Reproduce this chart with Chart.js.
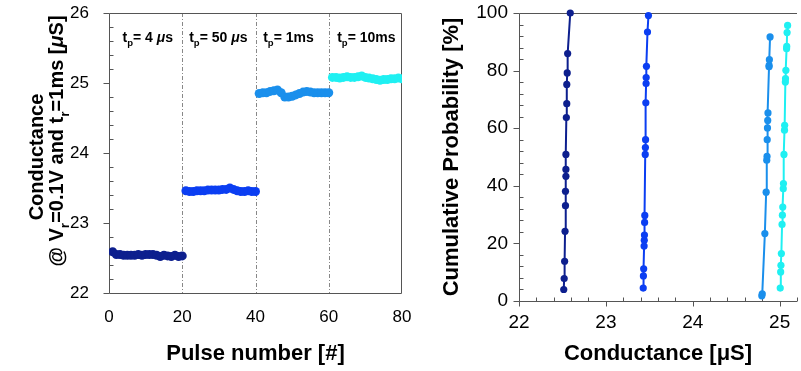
<!DOCTYPE html>
<html>
<head>
<meta charset="utf-8">
<script src="https://cdn.jsdelivr.net/npm/chart.js@4.4.0/dist/chart.umd.min.js"></script>
<style>
  html, body { margin: 0; padding: 0; background: #fff; }
  #wrap { position: relative; width: 801px; height: 371px; }
  .box { position: absolute; top: 0; height: 371px; }
  #left { left: 0; width: 440px; }
  #right { left: 440px; width: 361px; }
</style>
</head>
<body>
<div id="wrap">
  <div class="box" id="left"><canvas id="pulse-chart"></canvas></div>
  <div class="box" id="right"><canvas id="cdf-chart"></canvas></div>
</div>
<script>
// ---- left panel: conductance vs pulse number (4 pulse widths, 20 pulses each)
const pulsesA = [1, 2, 3, 4, 5, 6, 7, 8, 9, 10, 11, 12, 13, 14, 15, 16, 17, 18, 19, 20];
const pulsesB = [21, 22, 23, 24, 25, 26, 27, 28, 29, 30, 31, 32, 33, 34, 35, 36, 37, 38, 39, 40];
const pulsesC = [41, 42, 43, 44, 45, 46, 47, 48, 49, 50, 51, 52, 53, 54, 55, 56, 57, 58, 59, 60];
const pulsesD = [61, 62, 63, 64, 65, 66, 67, 68, 69, 70, 71, 72, 73, 74, 75, 76, 77, 78, 79, 80];

const condA = [22.59, 22.55, 22.55, 22.54, 22.54, 22.54, 22.54, 22.55, 22.54, 22.55,
               22.55, 22.55, 22.54, 22.52, 22.54, 22.53, 22.52, 22.54, 22.52, 22.53];
const condB = [23.46, 23.45, 23.45, 23.46, 23.46, 23.46, 23.47, 23.47, 23.47, 23.47,
               23.48, 23.48, 23.50, 23.48, 23.46, 23.45, 23.45, 23.46, 23.45, 23.45];
const condC = [24.85, 24.86, 24.86, 24.88, 24.89, 24.90, 24.86, 24.80, 24.80, 24.81,
               24.83, 24.85, 24.87, 24.88, 24.87, 24.86, 24.86, 24.86, 24.86, 24.86];
const condD = [25.08, 25.08, 25.07, 25.08, 25.09, 25.08, 25.08, 25.09, 25.10, 25.08,
               25.07, 25.06, 25.05, 25.04, 25.05, 25.05, 25.06, 25.06, 25.07, 25.06];

const widthLabels = ['4 ', '50 ', '1ms', '10ms'];   // text after "tp= "
const widthUnitsMu = [true, true, false, false];    // μs labels
const segmentStarts = [0, 20, 40, 60];
const segmentEdges = [20, 40, 60];                  // dashed separators

// ---- right panel: cumulative probability of each state
const cdfAx = [22.515, 22.52, 22.525, 22.53, 22.535, 22.535, 22.54, 22.54, 22.54, 22.545, 22.55, 22.55, 22.555, 22.56, 22.59];
const cdfAy = [4.0, 7.8, 13.8, 24.2, 33.1, 38.1, 43.3, 45.7, 50.9, 63.7, 68.5, 75.2, 79.2, 85.9, 100];
const cdfBx = [23.43, 23.432, 23.435, 23.44, 23.442, 23.444, 23.446, 23.448, 23.453, 23.455, 23.457, 23.46, 23.463, 23.464, 23.467, 23.479, 23.49];
const cdfBy = [4.5, 8.7, 11.2, 19.1, 21.1, 22.9, 27.3, 29.7, 50.9, 53.3, 56.0, 68.8, 75.5, 77.6, 81.5, 93.4, 99.1];
const cdfCx = [24.795, 24.8, 24.83, 24.845, 24.852, 24.855, 24.857, 24.86, 24.863, 24.866, 24.878, 24.879, 24.882, 24.89];
const cdfCy = [1.8, 2.5, 23.4, 37.8, 48.9, 50.2, 56.0, 60.1, 62.7, 65.3, 81.3, 81.8, 83.8, 91.7];
const cdfDx = [25.007, 25.012, 25.015, 25.02, 25.028, 25.032, 25.036, 25.042, 25.044, 25.05, 25.056, 25.058, 25.066, 25.068, 25.072, 25.08, 25.082, 25.086, 25.092];
const cdfDy = [4.5, 10.1, 12.4, 16.5, 26.6, 29.8, 32.6, 39.0, 40.8, 50.9, 59.3, 61.0, 76.0, 77.2, 80.1, 87.6, 88.4, 93.2, 95.7];

const colors = ['#0d1f8e', '#0b3ef2', '#1a8fec', '#1ff0f2'];

const FONT = '"Liberation Sans", Arial, Helvetica, sans-serif';
Chart.defaults.font.family = FONT;
Chart.defaults.color = '#000';

function pairs(xs, ys) {
    return xs.map((x, i) => ({ x: x, y: ys[i] }));
}

// draw text made of parts, some as subscripts / italic
function drawRich(ctx, parts, x, y, size, align) {
    const fontFor = p => (p.italic ? 'italic ' : '') + 'bold ' + (p.sub ? size * 0.68 : size) + 'px ' + FONT;
    let w = 0;
    parts.forEach(p => { ctx.font = fontFor(p); w += ctx.measureText(p.t).width; });
    let cx = align === 'center' ? x - w / 2 : x;
    ctx.textAlign = 'left';
    ctx.textBaseline = 'alphabetic';
    parts.forEach(p => {
        ctx.font = fontFor(p);
        ctx.fillText(p.t, cx, p.sub ? y + size * 0.28 : y);
        cx += ctx.measureText(p.t).width;
    });
}

// axis box, inward minor ticks, outward major ticks, dashed separators
const framePlugin = {
    id: 'frame',
    beforeDatasetsDraw(chart, args, opts) {
        const { ctx, chartArea: a } = chart;
        const xs = chart.scales.x, ys = chart.scales.y;
        ctx.save();
        ctx.strokeStyle = '#555';
        ctx.lineWidth = 1;

        if (opts.dividers) {
            ctx.save();
            ctx.strokeStyle = '#888';
            ctx.setLineDash([4, 2, 1, 2]);
            ctx.beginPath();
            opts.dividers.forEach(v => {
                const px = Math.round(xs.getPixelForValue(v)) + 0.5;
                ctx.moveTo(px, a.top); ctx.lineTo(px, a.bottom);
            });
            ctx.stroke();
            ctx.restore();
        }

        ctx.beginPath();
        const L = Math.round(a.left) + 0.5, R = Math.round(a.right) - 0.5;
        const T = Math.round(a.top) + 0.5, B = Math.round(a.bottom) + 0.5;
        ctx.moveTo(L, T); ctx.lineTo(L, B); ctx.lineTo(opts.rightEdge ? R : a.right, B);
        ctx.moveTo(L, T); ctx.lineTo(opts.rightEdge ? R : a.right, T);
        if (opts.rightEdge) { ctx.moveTo(R, T); ctx.lineTo(R, B); }

        // y ticks
        for (let v = ys.min; v <= ys.max + 1e-9; v += opts.yMinor) {
            const py = Math.round(ys.getPixelForValue(v)) + 0.5;
            const major = Math.abs(v / opts.yMajor - Math.round(v / opts.yMajor)) < 1e-6;
            if (major) { ctx.moveTo(L - 6, py); ctx.lineTo(L, py); }
            else { ctx.moveTo(L, py); ctx.lineTo(L + 4, py); }
        }
        // x ticks
        if (opts.xMinor) {
            for (let v = xs.min; v <= xs.max + 1e-9; v += opts.xMinor) {
                const px = Math.round(xs.getPixelForValue(v)) + 0.5;
                const major = Math.abs(v / opts.xMajor - Math.round(v / opts.xMajor)) < 1e-6;
                if (major) { ctx.moveTo(px, B); ctx.lineTo(px, B + 5); }
                else { ctx.moveTo(px, B); ctx.lineTo(px, B - 4); }
            }
        }
        ctx.stroke();
        ctx.restore();
    }
};

// pulse width labels and the two-line y title of the left panel
const labelPlugin = {
    id: 'labels',
    afterDraw(chart) {
        const { ctx, chartArea: a } = chart;
        const xs = chart.scales.x;
        ctx.save();
        ctx.fillStyle = '#000';
        const offsets = [3.7, 1.9, 2.1, 2.3];
        widthLabels.forEach((txt, i) => {
            const parts = [{ t: 't' }, { t: 'p', sub: true }, { t: '= ' + txt }];
            if (widthUnitsMu[i]) { parts.push({ t: 'μ', italic: true }); parts.push({ t: 's' }); }
            const px = xs.getPixelForValue(segmentStarts[i] + offsets[i]);
            drawRich(ctx, parts, px, a.top + 29, 14, 'left');
        });

        const midY = (a.top + a.bottom) / 2;
        ctx.save();
        ctx.translate(43, midY + 4);
        ctx.rotate(-Math.PI / 2);
        drawRich(ctx, [{ t: 'Conductance' }], 0, 0, 20, 'center');
        ctx.restore();
        ctx.save();
        ctx.translate(63, midY - 12);
        ctx.rotate(-Math.PI / 2);
        drawRich(ctx, [{ t: '@ V' }, { t: 'r', sub: true }, { t: '=0.1V and t' }, { t: 'r', sub: true },
                       { t: '=1ms [' }, { t: 'μ', italic: true }, { t: 'S]' }], 0, 0, 20, 'center');
        ctx.restore();
        ctx.restore();
    }
};

// fixed axis box sizes, no extra room for overhanging labels
function fixWidth(w) {
    return s => { s.width = w; s.paddingTop = 0; s.paddingBottom = 0; };
}
function fixHeight(h) {
    return s => { s.height = h; s.paddingLeft = 0; s.paddingRight = 0; };
}

function pulseChart() {
    const el = document.getElementById('pulse-chart');
    const segs = [[pulsesA, condA], [pulsesB, condB], [pulsesC, condC], [pulsesD, condD]];
    new Chart(el, {
        type: 'line',
        data: {
            datasets: segs.map((s, i) => ({
                data: pairs(s[0], s[1]),
                borderColor: colors[i],
                backgroundColor: colors[i],
                borderWidth: 3,
                pointRadius: 4.5,
                pointBorderWidth: 0,
                tension: 0
            }))
        },
        options: {
            responsive: true,
            maintainAspectRatio: false,
            animation: false,
            layout: { padding: { top: 13, right: 38, left: 0, bottom: 0 } },
            scales: {
                x: {
                    type: 'linear', min: 0, max: 80,
                    grid: { display: false, drawTicks: false },
                    border: { display: false },
                    ticks: { stepSize: 20, font: { size: 17 }, padding: 14, color: '#000' },
                    title: { display: true, text: 'Pulse number [#]', font: { size: 22, weight: 'bold' },
                             padding: { top: 0, bottom: 4 }, color: '#000' },
                    afterFit: fixHeight(78)
                },
                y: {
                    type: 'linear', min: 22, max: 26,
                    grid: { display: false, drawTicks: false },
                    border: { display: false },
                    ticks: { stepSize: 1, font: { size: 17 }, padding: 20, color: '#000' },
                    afterFit: fixWidth(109)
                }
            },
            plugins: {
                legend: { display: false },
                tooltip: { enabled: false },
                frame: { yMajor: 1, yMinor: 0.2, dividers: segmentEdges, rightEdge: true }
            }
        },
        plugins: [framePlugin, labelPlugin]
    });
}

function cdfChart() {
    const el = document.getElementById('cdf-chart');
    const sets = [[cdfAx, cdfAy], [cdfBx, cdfBy], [cdfCx, cdfCy], [cdfDx, cdfDy]];
    new Chart(el, {
        type: 'scatter',
        data: {
            datasets: sets.map((s, i) => ({
                data: pairs(s[0], s[1]),
                showLine: true,
                borderColor: colors[i],
                backgroundColor: colors[i],
                borderWidth: 2,
                pointRadius: 3.6,
                pointBorderWidth: 0,
                clip: false
            }))
        },
        options: {
            responsive: true,
            maintainAspectRatio: false,
            animation: false,
            layout: { padding: { top: 13, right: 1, left: 0, bottom: 0 } },
            scales: {
                x: {
                    type: 'linear', min: 22, max: 25.2,
                    grid: { display: false, drawTicks: false },
                    border: { display: false },
                    ticks: { stepSize: 1, includeBounds: false, font: { size: 19 }, padding: 10, color: '#000' },
                    title: { display: true, text: 'Conductance [μS]', font: { size: 22, weight: 'bold' },
                             padding: { top: 0, bottom: 4 }, color: '#000' },
                    afterFit: fixHeight(70)
                },
                y: {
                    type: 'linear', min: 0, max: 100,
                    grid: { display: false, drawTicks: false },
                    border: { display: false },
                    ticks: { stepSize: 20, font: { size: 19 }, padding: 11, color: '#000' },
                    title: { display: true, text: 'Cumulative Probability [%]', font: { size: 22, weight: 'bold', lineHeight: 1.05 },
                             padding: { top: 0, bottom: 0 }, color: '#000' },
                    afterFit: fixWidth(79)
                }
            },
            plugins: {
                legend: { display: false },
                tooltip: { enabled: false },
                frame: { yMajor: 20, yMinor: 4, xMajor: 1, xMinor: 0.2, rightEdge: false }
            }
        },
        plugins: [framePlugin]
    });
}

pulseChart();
cdfChart();
</script>
</body>
</html>
